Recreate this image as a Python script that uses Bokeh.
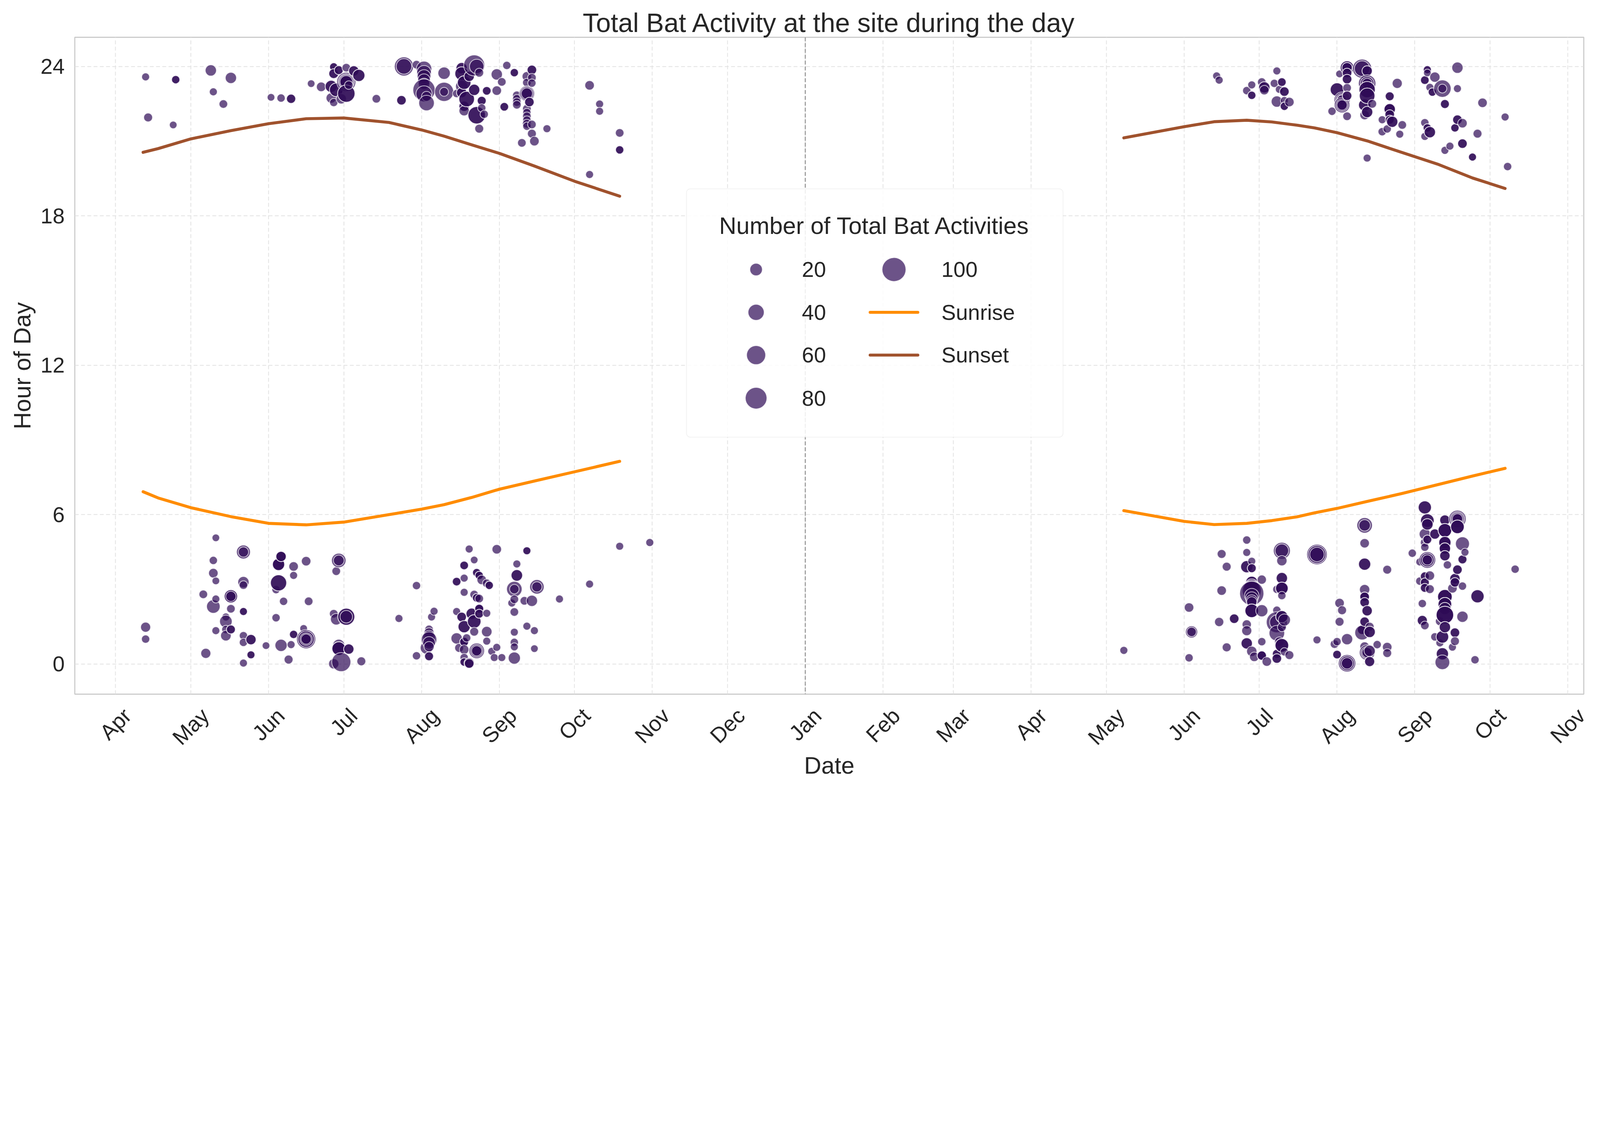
import numpy as np
import pandas as pd
from bokeh.plotting import figure
from bokeh.models import (ColumnDataSource, Range1d, MonthsTicker, FixedTicker,
                          DatetimeTickFormatter, Span, BoxAnnotation, Label)
from bokeh.embed import file_html
from bokeh.resources import INLINE

# bat passes: (date, hour of day, number of activities)
evening_2022 = [
    ("2022-04-13", 23.58, 2), ("2022-04-14", 21.95, 5), ("2022-04-24", 21.65, 1),
    ("2022-04-25", 23.47, 3), ("2022-04-25", 23.47, 3), ("2022-05-09", 23.84, 14),
    ("2022-05-10", 22.98, 2), ("2022-05-14", 22.49, 4), ("2022-05-17", 23.54, 14),
    ("2022-06-02", 22.76, 1), ("2022-06-06", 22.73, 3), ("2022-06-10", 22.70, 6),
    ("2022-06-10", 22.70, 6), ("2022-06-18", 23.31, 1), ("2022-06-22", 23.18, 7),
    ("2022-06-26", 23.20, 18), ("2022-06-26", 23.20, 18), ("2022-06-26", 22.73, 10),
    ("2022-06-27", 23.98, 3), ("2022-06-27", 23.98, 3), ("2022-06-27", 23.71, 8),
    ("2022-06-27", 23.71, 8), ("2022-06-27", 22.55, 3), ("2022-06-28", 23.06, 25),
    ("2022-06-28", 23.06, 25), ("2022-06-29", 23.85, 5), ("2022-06-29", 23.85, 5),
    ("2022-06-30", 22.70, 10), ("2022-07-02", 23.95, 4), ("2022-07-02", 23.38, 60),
    ("2022-07-02", 23.38, 40), ("2022-07-02", 23.38, 30), ("2022-07-02", 23.38, 20),
    ("2022-07-02", 22.91, 48), ("2022-07-02", 22.91, 48), ("2022-07-03", 23.25, 4),
    ("2022-07-05", 23.82, 10), ("2022-07-05", 23.82, 10), ("2022-07-07", 23.64, 18),
    ("2022-07-07", 23.64, 18), ("2022-07-14", 22.70, 4), ("2022-07-24", 22.64, 7),
    ("2022-07-24", 22.64, 7), ("2022-07-25", 24.00, 60), ("2022-07-25", 24.00, 36),
    ("2022-07-30", 24.07, 4), ("2022-08-02", 23.90, 36), ("2022-08-02", 23.75, 30),
    ("2022-08-02", 23.60, 25), ("2022-08-02", 23.45, 20), ("2022-08-02", 23.30, 15),
    ("2022-08-02", 23.05, 85), ("2022-08-02", 22.90, 40), ("2022-08-03", 22.80, 9),
    ("2022-08-03", 22.53, 36), ("2022-08-10", 23.73, 19), ("2022-08-10", 22.98, 60),
    ("2022-08-10", 22.98, 5), ("2022-08-15", 22.91, 3), ("2022-08-17", 23.93, 14),
    ("2022-08-17", 23.93, 14), ("2022-08-17", 23.71, 25), ("2022-08-17", 23.71, 25),
    ("2022-08-17", 23.20, 18), ("2022-08-17", 22.95, 10), ("2022-08-17", 22.95, 10),
    ("2022-08-18", 23.35, 25), ("2022-08-18", 23.35, 25), ("2022-08-18", 22.40, 10),
    ("2022-08-18", 22.40, 10), ("2022-08-18", 22.22, 10), ("2022-08-19", 22.69, 36),
    ("2022-08-19", 22.69, 36), ("2022-08-20", 23.60, 10), ("2022-08-20", 23.60, 10),
    ("2022-08-22", 24.04, 75), ("2022-08-23", 24.00, 30), ("2022-08-22", 23.06, 14),
    ("2022-08-22", 23.06, 14), ("2022-08-23", 22.04, 48), ("2022-08-23", 22.04, 48),
    ("2022-08-24", 23.75, 5), ("2022-08-24", 21.50, 5), ("2022-08-25", 22.62, 5),
    ("2022-08-25", 22.62, 5), ("2022-08-25", 22.33, 3), ("2022-08-26", 22.08, 3),
    ("2022-08-27", 23.02, 4), ("2022-08-27", 23.02, 4), ("2022-08-31", 23.68, 14),
    ("2022-08-31", 23.03, 7), ("2022-09-02", 23.38, 4), ("2022-09-03", 22.38, 4),
    ("2022-09-03", 22.38, 4), ("2022-09-04", 24.04, 3), ("2022-09-07", 23.75, 3),
    ("2022-09-07", 23.75, 3), ("2022-09-08", 22.84, 4), ("2022-09-08", 22.70, 4),
    ("2022-09-08", 22.57, 4), ("2022-09-08", 22.46, 4), ("2022-09-10", 20.93, 4),
    ("2022-09-12", 23.60, 7), ("2022-09-12", 23.35, 4), ("2022-09-12", 22.91, 36),
    ("2022-09-12", 22.91, 25), ("2022-09-12", 22.91, 14), ("2022-09-12", 22.30, 4),
    ("2022-09-12", 22.15, 3), ("2022-09-12", 22.00, 4), ("2022-09-12", 21.85, 3),
    ("2022-09-12", 21.70, 5), ("2022-09-12", 21.60, 3), ("2022-09-13", 22.57, 7),
    ("2022-09-13", 22.57, 7), ("2022-09-14", 23.86, 7), ("2022-09-14", 23.86, 7),
    ("2022-09-14", 23.55, 4), ("2022-09-14", 23.33, 3), ("2022-09-14", 21.67, 4),
    ("2022-09-14", 21.30, 5), ("2022-09-15", 21.00, 7), ("2022-09-20", 21.50, 2),
    ("2022-10-07", 23.24, 7), ("2022-10-07", 19.66, 2), ("2022-10-11", 22.49, 2),
    ("2022-10-11", 22.20, 2), ("2022-10-19", 21.33, 4), ("2022-10-19", 20.65, 3),
    ("2022-10-19", 20.65, 3),
]

morning_2022 = [
    ("2022-04-13", 1.48, 9), ("2022-04-13", 1.00, 3), ("2022-05-06", 2.80, 4),
    ("2022-05-07", 0.43, 9), ("2022-05-10", 4.16, 3), ("2022-05-10", 3.65, 7),
    ("2022-05-10", 2.31, 25), ("2022-05-11", 5.07, 1), ("2022-05-11", 3.34, 1),
    ("2022-05-11", 2.61, 2), ("2022-05-11", 1.34, 2), ("2022-05-15", 1.89, 2),
    ("2022-05-15", 1.71, 20), ("2022-05-15", 1.39, 3), ("2022-05-15", 1.14, 11),
    ("2022-05-17", 2.72, 23), ("2022-05-17", 2.72, 23), ("2022-05-17", 2.72, 10),
    ("2022-05-17", 2.22, 4), ("2022-05-17", 1.39, 5), ("2022-05-17", 1.39, 5),
    ("2022-05-22", 4.50, 27), ("2022-05-22", 4.50, 10), ("2022-05-22", 3.29, 14),
    ("2022-05-22", 3.17, 4), ("2022-05-22", 2.11, 2), ("2022-05-22", 2.11, 2),
    ("2022-05-22", 1.14, 3), ("2022-05-22", 0.87, 3), ("2022-05-22", 0.04, 2),
    ("2022-05-25", 0.98, 10), ("2022-05-25", 0.98, 10), ("2022-05-25", 0.37, 2),
    ("2022-05-25", 0.37, 2), ("2022-05-31", 0.74, 1), ("2022-06-04", 2.99, 3),
    ("2022-06-04", 1.86, 3), ("2022-06-05", 4.00, 18), ("2022-06-05", 4.00, 18),
    ("2022-06-05", 4.00, 18), ("2022-06-05", 3.26, 40), ("2022-06-05", 3.26, 40),
    ("2022-06-06", 4.32, 10), ("2022-06-06", 4.32, 10), ("2022-06-06", 4.32, 10),
    ("2022-06-06", 0.75, 18), ("2022-06-07", 2.52, 3), ("2022-06-09", 0.18, 5),
    ("2022-06-10", 0.78, 2), ("2022-06-11", 3.92, 7), ("2022-06-11", 3.56, 2),
    ("2022-06-11", 1.19, 3), ("2022-06-11", 1.19, 3), ("2022-06-15", 1.43, 1),
    ("2022-06-16", 4.13, 7), ("2022-06-16", 1.00, 60), ("2022-06-16", 1.00, 40),
    ("2022-06-16", 1.00, 20), ("2022-06-16", 1.00, 10), ("2022-06-17", 2.52, 4),
    ("2022-06-27", 2.02, 4), ("2022-06-27", 0.01, 10), ("2022-06-28", 3.73, 4),
    ("2022-06-28", 1.80, 15), ("2022-06-29", 4.16, 30), ("2022-06-29", 4.16, 12),
    ("2022-06-29", 0.75, 18), ("2022-06-29", 0.62, 25), ("2022-06-29", 0.62, 25),
    ("2022-06-29", 0.62, 25), ("2022-06-30", 0.08, 60), ("2022-07-02", 1.90, 45),
    ("2022-07-02", 1.90, 45), ("2022-07-02", 1.90, 20), ("2022-07-03", 0.60, 10),
    ("2022-07-03", 0.60, 10), ("2022-07-08", 0.11, 5), ("2022-07-23", 1.83, 2),
    ("2022-07-30", 3.15, 3), ("2022-07-30", 0.33, 3), ("2022-08-03", 0.65, 20),
    ("2022-08-04", 1.39, 4), ("2022-08-04", 1.25, 10), ("2022-08-04", 1.10, 20),
    ("2022-08-04", 0.98, 36), ("2022-08-04", 0.85, 20), ("2022-08-04", 0.70, 10),
    ("2022-08-04", 0.31, 5), ("2022-08-04", 0.31, 5), ("2022-08-05", 1.89, 2),
    ("2022-08-06", 2.12, 2), ("2022-08-15", 3.31, 4), ("2022-08-15", 3.31, 4),
    ("2022-08-15", 2.11, 2), ("2022-08-15", 1.03, 14), ("2022-08-16", 0.65, 5),
    ("2022-08-17", 1.89, 7), ("2022-08-17", 1.89, 7), ("2022-08-18", 3.96, 4),
    ("2022-08-18", 3.96, 4), ("2022-08-18", 3.45, 2), ("2022-08-18", 2.88, 2),
    ("2022-08-18", 1.50, 18), ("2022-08-18", 1.50, 18), ("2022-08-18", 0.89, 5),
    ("2022-08-18", 0.89, 5), ("2022-08-18", 0.89, 5), ("2022-08-18", 0.58, 7),
    ("2022-08-18", 0.26, 3), ("2022-08-18", 0.08, 3), ("2022-08-18", 0.08, 3),
    ("2022-08-19", 1.05, 3), ("2022-08-20", 4.62, 2), ("2022-08-20", 0.04, 10),
    ("2022-08-20", 0.04, 10), ("2022-08-20", 0.02, 7), ("2022-08-21", 2.02, 14),
    ("2022-08-21", 2.02, 14), ("2022-08-22", 4.18, 1), ("2022-08-22", 2.79, 4),
    ("2022-08-22", 1.71, 25), ("2022-08-22", 1.71, 25), ("2022-08-22", 1.30, 5),
    ("2022-08-23", 3.67, 3), ("2022-08-23", 3.67, 3), ("2022-08-23", 2.66, 4),
    ("2022-08-23", 2.66, 4), ("2022-08-23", 0.53, 36), ("2022-08-23", 0.53, 20),
    ("2022-08-23", 0.53, 10), ("2022-08-24", 3.56, 3), ("2022-08-24", 3.56, 3),
    ("2022-08-24", 2.63, 4), ("2022-08-24", 2.22, 5), ("2022-08-24", 2.22, 5),
    ("2022-08-24", 2.22, 5), ("2022-08-24", 2.02, 5), ("2022-08-24", 2.02, 5),
    ("2022-08-25", 3.38, 7), ("2022-08-27", 3.24, 4), ("2022-08-27", 2.04, 2),
    ("2022-08-27", 1.30, 11), ("2022-08-27", 0.92, 2), ("2022-08-28", 3.16, 3),
    ("2022-08-28", 3.16, 3), ("2022-08-29", 0.51, 2), ("2022-08-30", 0.26, 2),
    ("2022-08-31", 4.61, 7), ("2022-08-31", 0.67, 2), ("2022-09-02", 0.26, 2),
    ("2022-09-06", 2.45, 2), ("2022-09-07", 3.01, 36), ("2022-09-07", 3.01, 7),
    ("2022-09-07", 2.60, 4), ("2022-09-07", 2.09, 4), ("2022-09-07", 1.28, 2),
    ("2022-09-07", 0.87, 3), ("2022-09-07", 0.69, 2), ("2022-09-07", 0.24, 18),
    ("2022-09-08", 4.02, 2), ("2022-09-08", 3.56, 15), ("2022-09-08", 3.56, 15),
    ("2022-09-11", 2.54, 4), ("2022-09-12", 4.55, 2), ("2022-09-12", 4.55, 2),
    ("2022-09-12", 1.52, 2), ("2022-09-14", 2.54, 14), ("2022-09-15", 1.34, 2),
    ("2022-09-15", 0.62, 1), ("2022-09-16", 3.10, 30), ("2022-09-16", 3.10, 10),
    ("2022-09-25", 2.61, 2), ("2022-10-07", 3.21, 2), ("2022-10-19", 4.73, 2),
    ("2022-10-31", 4.88, 2),
]

evening_2023 = [
    ("2023-06-14", 23.62, 2), ("2023-06-15", 23.45, 2), ("2023-06-26", 23.03, 3),
    ("2023-06-28", 23.26, 2), ("2023-06-28", 22.84, 3), ("2023-06-28", 22.84, 3),
    ("2023-07-02", 23.37, 4), ("2023-07-03", 23.16, 14), ("2023-07-03", 23.16, 14),
    ("2023-07-03", 23.05, 7), ("2023-07-07", 23.32, 3), ("2023-07-08", 23.82, 2),
    ("2023-07-08", 22.59, 14), ("2023-07-09", 23.08, 2), ("2023-07-10", 23.37, 4),
    ("2023-07-10", 23.37, 4), ("2023-07-11", 22.99, 7), ("2023-07-11", 22.99, 7),
    ("2023-07-11", 22.63, 2), ("2023-07-11", 22.40, 3), ("2023-07-11", 22.40, 3),
    ("2023-07-13", 22.57, 7), ("2023-07-30", 22.20, 3), ("2023-08-01", 23.07, 25),
    ("2023-08-01", 23.07, 25), ("2023-08-02", 23.70, 1), ("2023-08-03", 22.65, 40),
    ("2023-08-03", 22.65, 25), ("2023-08-03", 22.65, 14), ("2023-08-03", 22.65, 10),
    ("2023-08-03", 22.45, 36), ("2023-08-03", 22.45, 20), ("2023-08-03", 22.45, 10),
    ("2023-08-05", 23.95, 25), ("2023-08-05", 23.95, 25), ("2023-08-05", 23.95, 10),
    ("2023-08-05", 23.95, 10), ("2023-08-05", 23.74, 7), ("2023-08-05", 23.74, 7),
    ("2023-08-05", 23.49, 7), ("2023-08-05", 23.49, 7), ("2023-08-05", 23.14, 4),
    ("2023-08-05", 22.82, 7), ("2023-08-05", 22.82, 7), ("2023-08-05", 22.00, 4),
    ("2023-08-11", 23.91, 60), ("2023-08-11", 23.91, 36), ("2023-08-12", 22.45, 18),
    ("2023-08-12", 22.45, 18), ("2023-08-12", 22.05, 7), ("2023-08-13", 23.82, 10),
    ("2023-08-13", 23.82, 10), ("2023-08-13", 23.32, 48), ("2023-08-13", 23.32, 25),
    ("2023-08-13", 23.32, 10), ("2023-08-13", 23.07, 40), ("2023-08-13", 23.07, 40),
    ("2023-08-13", 22.82, 36), ("2023-08-13", 22.82, 36), ("2023-08-13", 22.17, 14),
    ("2023-08-13", 22.17, 14), ("2023-08-13", 20.32, 2), ("2023-08-15", 22.50, 5),
    ("2023-08-19", 21.86, 2), ("2023-08-19", 21.38, 3), ("2023-08-21", 21.49, 3),
    ("2023-08-22", 22.80, 5), ("2023-08-22", 22.80, 5), ("2023-08-22", 22.28, 14),
    ("2023-08-22", 22.28, 14), ("2023-08-22", 22.28, 14), ("2023-08-22", 22.07, 7),
    ("2023-08-22", 22.07, 7), ("2023-08-22", 21.86, 5), ("2023-08-22", 21.86, 5),
    ("2023-08-23", 21.78, 14), ("2023-08-23", 21.78, 14), ("2023-08-25", 23.32, 9),
    ("2023-08-26", 21.28, 2), ("2023-08-27", 21.65, 4), ("2023-09-05", 23.45, 4),
    ("2023-09-05", 23.45, 4), ("2023-09-05", 21.74, 3), ("2023-09-05", 21.19, 2),
    ("2023-09-06", 23.87, 2), ("2023-09-06", 23.87, 2), ("2023-09-06", 23.74, 1),
    ("2023-09-06", 21.53, 3), ("2023-09-06", 21.53, 3), ("2023-09-07", 23.16, 2),
    ("2023-09-07", 21.36, 14), ("2023-09-07", 21.36, 14), ("2023-09-08", 22.97, 3),
    ("2023-09-08", 22.97, 3), ("2023-09-09", 23.57, 10), ("2023-09-12", 23.11, 48),
    ("2023-09-12", 23.11, 5), ("2023-09-13", 22.49, 5), ("2023-09-13", 22.49, 5),
    ("2023-09-13", 20.63, 2), ("2023-09-15", 20.80, 2), ("2023-09-17", 21.53, 3),
    ("2023-09-17", 21.53, 3), ("2023-09-18", 23.95, 14), ("2023-09-18", 23.11, 2),
    ("2023-09-18", 21.86, 7), ("2023-09-18", 21.86, 7), ("2023-09-20", 21.72, 7),
    ("2023-09-20", 20.90, 7), ("2023-09-20", 20.90, 7), ("2023-09-24", 20.36, 2),
    ("2023-09-24", 20.36, 2), ("2023-09-26", 21.30, 5), ("2023-09-28", 22.54, 7),
    ("2023-10-07", 21.97, 2), ("2023-10-08", 19.98, 3),
]

morning_2023 = [
    ("2023-05-08", 0.55, 2), ("2023-06-03", 2.27, 7), ("2023-06-03", 0.25, 3),
    ("2023-06-04", 1.29, 18), ("2023-06-04", 1.29, 7), ("2023-06-15", 1.69, 6),
    ("2023-06-16", 4.42, 5), ("2023-06-16", 2.95, 7), ("2023-06-18", 3.91, 5),
    ("2023-06-18", 0.67, 5), ("2023-06-21", 1.82, 7), ("2023-06-21", 1.82, 7),
    ("2023-06-26", 4.98, 3), ("2023-06-26", 4.48, 2), ("2023-06-26", 3.91, 18),
    ("2023-06-26", 3.91, 18), ("2023-06-26", 1.59, 6), ("2023-06-26", 1.34, 9),
    ("2023-06-26", 0.83, 14), ("2023-06-26", 0.83, 14), ("2023-06-28", 4.13, 2),
    ("2023-06-28", 3.85, 5), ("2023-06-28", 3.85, 5), ("2023-06-28", 3.28, 18),
    ("2023-06-28", 3.28, 18), ("2023-06-28", 3.28, 18), ("2023-06-28", 3.15, 25),
    ("2023-06-28", 3.05, 40), ("2023-06-28", 2.95, 60), ("2023-06-28", 2.84, 102),
    ("2023-06-28", 2.75, 30), ("2023-06-28", 2.65, 20), ("2023-06-28", 2.55, 15),
    ("2023-06-28", 2.50, 10), ("2023-06-28", 2.14, 25), ("2023-06-28", 2.14, 25),
    ("2023-06-28", 2.14, 25), ("2023-06-28", 0.51, 10), ("2023-06-29", 0.29, 7),
    ("2023-07-02", 3.39, 6), ("2023-07-02", 2.14, 18), ("2023-07-02", 0.90, 3),
    ("2023-07-02", 0.34, 6), ("2023-07-02", 0.34, 6), ("2023-07-02", 0.34, 6),
    ("2023-07-04", 0.10, 7), ("2023-07-08", 3.00, 3), ("2023-07-08", 2.16, 3),
    ("2023-07-08", 1.68, 75), ("2023-07-08", 1.68, 30), ("2023-07-08", 1.24, 36),
    ("2023-07-08", 0.41, 5), ("2023-07-08", 0.41, 5), ("2023-07-08", 0.22, 7),
    ("2023-07-08", 0.22, 7), ("2023-07-09", 0.90, 7), ("2023-07-10", 4.55, 45),
    ("2023-07-10", 4.55, 25), ("2023-07-10", 4.15, 10), ("2023-07-10", 3.45, 14),
    ("2023-07-10", 3.45, 14), ("2023-07-10", 3.04, 20), ("2023-07-10", 3.04, 20),
    ("2023-07-10", 3.04, 20), ("2023-07-10", 2.75, 3), ("2023-07-10", 1.90, 18),
    ("2023-07-10", 1.90, 18), ("2023-07-10", 1.90, 18), ("2023-07-10", 1.48, 5),
    ("2023-07-10", 0.75, 25), ("2023-07-10", 0.75, 25), ("2023-07-10", 0.75, 25),
    ("2023-07-11", 1.77, 18), ("2023-07-11", 0.49, 3), ("2023-07-13", 0.36, 5),
    ("2023-07-24", 4.40, 70), ("2023-07-24", 4.40, 50), ("2023-07-24", 4.40, 30),
    ("2023-07-24", 0.97, 2), ("2023-07-31", 0.80, 4), ("2023-08-01", 0.90, 3),
    ("2023-08-01", 0.38, 4), ("2023-08-01", 0.38, 4), ("2023-08-02", 2.45, 7),
    ("2023-08-02", 1.70, 5), ("2023-08-03", 2.16, 5), ("2023-08-05", 1.00, 14),
    ("2023-08-05", 0.03, 48), ("2023-08-05", 0.03, 30), ("2023-08-05", 0.03, 15),
    ("2023-08-11", 1.38, 7), ("2023-08-11", 1.38, 7), ("2023-08-11", 1.26, 31),
    ("2023-08-12", 5.57, 36), ("2023-08-12", 5.57, 15), ("2023-08-12", 4.85, 7),
    ("2023-08-12", 4.01, 18), ("2023-08-12", 4.01, 18), ("2023-08-12", 2.99, 10),
    ("2023-08-12", 2.70, 7), ("2023-08-12", 2.70, 7), ("2023-08-12", 2.70, 7),
    ("2023-08-12", 2.48, 7), ("2023-08-12", 2.48, 7), ("2023-08-12", 1.70, 7),
    ("2023-08-12", 1.70, 7), ("2023-08-12", 0.70, 7), ("2023-08-13", 2.14, 10),
    ("2023-08-13", 2.14, 10), ("2023-08-13", 0.46, 36), ("2023-08-13", 0.46, 20),
    ("2023-08-13", 0.46, 10), ("2023-08-14", 1.50, 5), ("2023-08-14", 1.29, 14),
    ("2023-08-14", 1.29, 14), ("2023-08-14", 0.53, 14), ("2023-08-14", 0.10, 9),
    ("2023-08-14", 0.10, 9), ("2023-08-17", 0.78, 3), ("2023-08-21", 3.79, 5),
    ("2023-08-21", 0.68, 7), ("2023-08-21", 0.44, 5), ("2023-08-31", 4.45, 3),
    ("2023-09-03", 4.10, 2), ("2023-09-03", 3.33, 3), ("2023-09-04", 2.43, 3),
    ("2023-09-04", 1.75, 9), ("2023-09-04", 1.75, 9), ("2023-09-05", 6.29, 23),
    ("2023-09-05", 6.29, 23), ("2023-09-05", 5.22, 14), ("2023-09-05", 4.88, 5),
    ("2023-09-05", 4.69, 3), ("2023-09-05", 3.52, 5), ("2023-09-05", 3.52, 5),
    ("2023-09-05", 3.28, 5), ("2023-09-05", 3.28, 5), ("2023-09-05", 3.06, 5),
    ("2023-09-05", 3.06, 5), ("2023-09-05", 1.55, 4), ("2023-09-06", 5.76, 25),
    ("2023-09-06", 5.76, 25), ("2023-09-06", 5.61, 15), ("2023-09-06", 5.61, 15),
    ("2023-09-06", 5.00, 5), ("2023-09-06", 5.00, 5), ("2023-09-06", 4.18, 43),
    ("2023-09-06", 4.18, 25), ("2023-09-06", 4.18, 10), ("2023-09-07", 3.55, 7),
    ("2023-09-07", 3.01, 5), ("2023-09-09", 5.22, 10), ("2023-09-09", 5.22, 10),
    ("2023-09-09", 1.09, 3), ("2023-09-11", 1.72, 5), ("2023-09-11", 0.85, 2),
    ("2023-09-12", 1.09, 20), ("2023-09-12", 1.09, 20), ("2023-09-12", 0.41, 18),
    ("2023-09-12", 0.41, 18), ("2023-09-12", 0.07, 31), ("2023-09-13", 5.78, 10),
    ("2023-09-13", 5.78, 10), ("2023-09-13", 5.37, 25), ("2023-09-13", 5.37, 25),
    ("2023-09-13", 5.37, 25), ("2023-09-13", 4.88, 18), ("2023-09-13", 4.88, 18),
    ("2023-09-13", 4.88, 18), ("2023-09-13", 4.64, 14), ("2023-09-13", 4.64, 14),
    ("2023-09-13", 4.64, 14), ("2023-09-13", 4.35, 10), ("2023-09-13", 4.35, 10),
    ("2023-09-13", 2.70, 30), ("2023-09-13", 2.70, 30), ("2023-09-13", 2.70, 30),
    ("2023-09-13", 2.40, 25), ("2023-09-13", 2.40, 25), ("2023-09-13", 2.40, 25),
    ("2023-09-13", 2.23, 18), ("2023-09-13", 2.23, 18), ("2023-09-13", 1.97, 48),
    ("2023-09-13", 1.97, 48), ("2023-09-13", 1.97, 48), ("2023-09-13", 1.48, 14),
    ("2023-09-13", 1.48, 14), ("2023-09-14", 3.98, 3), ("2023-09-16", 3.04, 7),
    ("2023-09-16", 0.68, 2), ("2023-09-17", 3.43, 10), ("2023-09-17", 3.43, 10),
    ("2023-09-17", 3.28, 7), ("2023-09-17", 3.28, 7), ("2023-09-17", 1.26, 7),
    ("2023-09-17", 1.26, 7), ("2023-09-17", 0.92, 5), ("2023-09-18", 5.83, 48),
    ("2023-09-18", 5.83, 30), ("2023-09-18", 5.83, 20), ("2023-09-18", 5.83, 10),
    ("2023-09-18", 5.51, 25), ("2023-09-18", 5.51, 25), ("2023-09-18", 5.51, 25),
    ("2023-09-18", 3.79, 7), ("2023-09-18", 3.79, 7), ("2023-09-20", 4.83, 27),
    ("2023-09-20", 4.20, 5), ("2023-09-20", 4.20, 5), ("2023-09-20", 3.13, 3),
    ("2023-09-20", 1.90, 14), ("2023-09-21", 4.49, 2), ("2023-09-25", 0.17, 3),
    ("2023-09-26", 2.72, 23), ("2023-09-26", 2.72, 23), ("2023-10-11", 3.81, 3),
]

# sunrise / sunset hour
sun_dates_2022 = ["2022-04-12", "2022-04-18", "2022-05-01", "2022-05-17", "2022-06-01",
                  "2022-06-16", "2022-07-01", "2022-07-19", "2022-08-01", "2022-08-10",
                  "2022-08-21", "2022-09-01", "2022-09-15", "2022-10-01", "2022-10-19"]
sunrise_2022 = [6.92, 6.67, 6.28, 5.92, 5.65, 5.59, 5.70, 6.00, 6.22, 6.40, 6.69, 7.02, 7.35, 7.72, 8.14]
sunset_2022 = [20.55, 20.70, 21.09, 21.42, 21.70, 21.90, 21.93, 21.75, 21.45, 21.20, 20.85, 20.51, 20.00, 19.39, 18.79]

sun_dates_2023 = ["2023-05-08", "2023-06-01", "2023-06-13", "2023-06-26", "2023-07-06",
                  "2023-07-16", "2023-07-23", "2023-08-01", "2023-08-13", "2023-08-27",
                  "2023-09-10", "2023-09-24", "2023-10-07"]
sunrise_2023 = [6.16, 5.73, 5.60, 5.65, 5.76, 5.91, 6.07, 6.25, 6.53, 6.85, 7.20, 7.55, 7.86]
sunset_2023 = [21.13, 21.58, 21.78, 21.84, 21.77, 21.64, 21.53, 21.34, 21.01, 20.54, 20.08, 19.52, 19.10]

legend_counts = [20, 40, 60, 80, 100]
y_ticks = [0, 6, 12, 18, 24]

PURPLE = "#2d0a55"
SUNRISE = "#ff8c00"
SUNSET = "#a0522d"
TEXT = "#262626"
FONT = "Liberation Sans"

# the page is photographed at about 1.44 device pixels per css pixel,
# so layout numbers below are given in photo pixels and divided by S
S = 1.442


def css(v):
    return v / S


def pos(v):
    return v / S - 8


def marker_size(count):
    # marker area grows linearly with the number of activities
    return np.sqrt(708 + 70.4 * np.asarray(count, dtype=float)) / S


frames = []
for rec in (evening_2022, morning_2022, evening_2023, morning_2023):
    frames.append(pd.DataFrame(rec, columns=["date", "hour", "count"]))
bats = pd.concat(frames, ignore_index=True)
bats["date"] = pd.to_datetime(bats["date"])
bats = bats.sort_values("date", kind="stable")
bats["size"] = marker_size(bats["count"])

W, H = 4076, 2000
FL, FR, FT, FB = round(pos(286.5)), round(pos(5857)), round(pos(148.5)), round(pos(2574))

TICK_PX = css(80)
LABEL_PX = css(88)

x_start = pd.Timestamp("2022-03-15 18:30")
x_end = pd.Timestamp("2023-11-07 09:00")
y_start, y_end = -1.21, 25.17

p = figure(width=W, height=H, x_axis_type="datetime", output_backend="svg",
           toolbar_location=None, x_range=Range1d(x_start, x_end),
           y_range=Range1d(y_start, y_end),
           min_border_left=FL, min_border_right=W - FR,
           min_border_top=FT, min_border_bottom=H - FB)

p.title.text = "Total Bat Activity at the site during the day"
p.title.align = "center"
p.title.text_font = FONT
p.title.text_font_size = f"{css(98):.1f}px"
p.title.text_font_style = "normal"
p.title.text_color = TEXT
p.title.standoff = 0

# month ticks; bokeh hangs rotated labels from their right end, so each label's
# anchor is moved right by half its slanted width to centre it under the gridline
month_starts = pd.date_range("2022-04-01", "2023-11-01", freq="MS")
label_em = {"Jan": 1.61, "Feb": 1.72, "Mar": 1.72, "Apr": 1.56, "May": 1.89, "Jun": 1.61,
            "Jul": 1.28, "Aug": 1.78, "Sep": 1.78, "Oct": 1.56, "Nov": 1.78, "Dec": 1.78}
ms_per_px = (x_end - x_start).total_seconds() * 1000 / (FR - FL)
tick_ms = [m.timestamp() * 1000 + label_em[m.strftime("%b")] * TICK_PX * 0.3536 * ms_per_px
           for m in month_starts]
p.xaxis.ticker = FixedTicker(ticks=tick_ms)
p.xgrid.ticker = MonthsTicker(months=list(range(12)))
p.xaxis.formatter = DatetimeTickFormatter(months="%b", days="%b", hours="%b",
                                          hourmin="%b", years="%b")
p.yaxis.ticker = y_ticks
p.xaxis.axis_label = "Date"
p.yaxis.axis_label = "Hour of Day"
for ax in (p.xaxis, p.yaxis):
    ax.axis_line_color = None
    ax.major_tick_line_color = None
    ax.minor_tick_line_color = None
    ax.major_tick_out = 0
    ax.major_tick_in = 0
    ax.major_label_text_font = FONT
    ax.major_label_text_font_size = f"{TICK_PX:.1f}px"
    ax.major_label_text_color = TEXT
    ax.axis_label_text_font = FONT
    ax.axis_label_text_font_size = f"{LABEL_PX:.1f}px"
    ax.axis_label_text_font_style = "normal"
    ax.axis_label_text_color = TEXT
p.xaxis.major_label_orientation = np.pi / 4
p.xaxis.major_label_standoff = 46
p.xaxis.axis_label_standoff = -18
p.yaxis.major_label_standoff = 26
p.yaxis.axis_label_standoff = 10

p.grid.grid_line_color = "#e2e2e2"
p.grid.grid_line_width = 2
p.grid.grid_line_dash = "10 6"
p.outline_line_color = "#cccccc"
p.outline_line_width = 2.8
p.background_fill_color = "white"
p.border_fill_color = "white"

p.scatter("date", "hour", size="size", source=ColumnDataSource(bats),
          fill_color=PURPLE, fill_alpha=0.7, line_color="white", line_alpha=0.7, line_width=2)

LW = css(11)
for dates, vals, color in ((sun_dates_2022, sunrise_2022, SUNRISE), (sun_dates_2022, sunset_2022, SUNSET),
                           (sun_dates_2023, sunrise_2023, SUNRISE), (sun_dates_2023, sunset_2023, SUNSET)):
    p.line(pd.to_datetime(dates), vals, line_color=color, line_width=LW,
           line_cap="round", line_join="round")

# year boundary
new_year = pd.Timestamp("2023-01-01").timestamp() * 1000
p.add_layout(Span(location=new_year, dimension="height", line_color="gray",
                  line_alpha=0.75, line_width=2.8, line_dash="10 5"))

# legend drawn by hand so the size keys can differ
x0_ms = x_start.timestamp() * 1000
x1_ms = x_end.timestamp() * 1000


def data_x(ref_x):
    return x0_ms + (pos(ref_x) - FL) / (FR - FL) * (x1_ms - x0_ms)


def data_y(ref_y):
    return y_start + (FB - pos(ref_y)) / (FB - FT) * (y_end - y_start)


def sx(ref_x):
    return pos(ref_x) - FL


def sy(ref_y):
    return FB - pos(ref_y)


box_l, box_r, box_t, box_b = 2545, 3935, 708, 1625
p.add_layout(BoxAnnotation(left=sx(box_l), right=sx(box_r), top=sy(box_t), bottom=sy(box_b),
                           left_units="screen", right_units="screen",
                           top_units="screen", bottom_units="screen",
                           fill_color="white", fill_alpha=0.85, line_color="#d4d4d4",
                           line_width=2, border_radius=10))
p.add_layout(Label(x=sx((box_l + box_r) / 2), y=sy(844), x_units="screen", y_units="screen",
                   text="Number of Total Bat Activities", text_align="center",
                   text_baseline="middle", text_font=FONT, text_font_size=f"{LABEL_PX:.1f}px",
                   text_color=TEXT))

row_y = [1006, 1164, 1322, 1481]
col1_marker, col1_text = 2802, 2971
col2_marker, col2_text = 3311, 3486

key_x = [col1_marker] * 4 + [col2_marker]
key_y = row_y + [row_y[0]]
p.scatter([data_x(v) for v in key_x], [data_y(v) for v in key_y], size=marker_size(legend_counts),
          fill_color=PURPLE, fill_alpha=0.7, line_color="white", line_alpha=0.7, line_width=2,
          level="overlay")
for cnt, tx, ty in zip(legend_counts, [col1_text] * 4 + [col2_text], key_y):
    p.add_layout(Label(x=sx(tx), y=sy(ty), x_units="screen", y_units="screen", text=str(cnt),
                       text_baseline="middle", text_font=FONT, text_font_size=f"{TICK_PX:.1f}px",
                       text_color=TEXT))

for name, color, ty in (("Sunrise", SUNRISE, row_y[1]), ("Sunset", SUNSET, row_y[2])):
    p.segment(data_x(col2_marker - 88), data_y(ty), data_x(col2_marker + 88), data_y(ty),
              line_color=color, line_width=LW, line_cap="round", level="overlay")
    p.add_layout(Label(x=sx(col2_text), y=sy(ty), x_units="screen", y_units="screen", text=name,
                       text_baseline="middle", text_font=FONT, text_font_size=f"{TICK_PX:.1f}px",
                       text_color=TEXT))

open("out.html", "w").write(file_html(p, INLINE))
